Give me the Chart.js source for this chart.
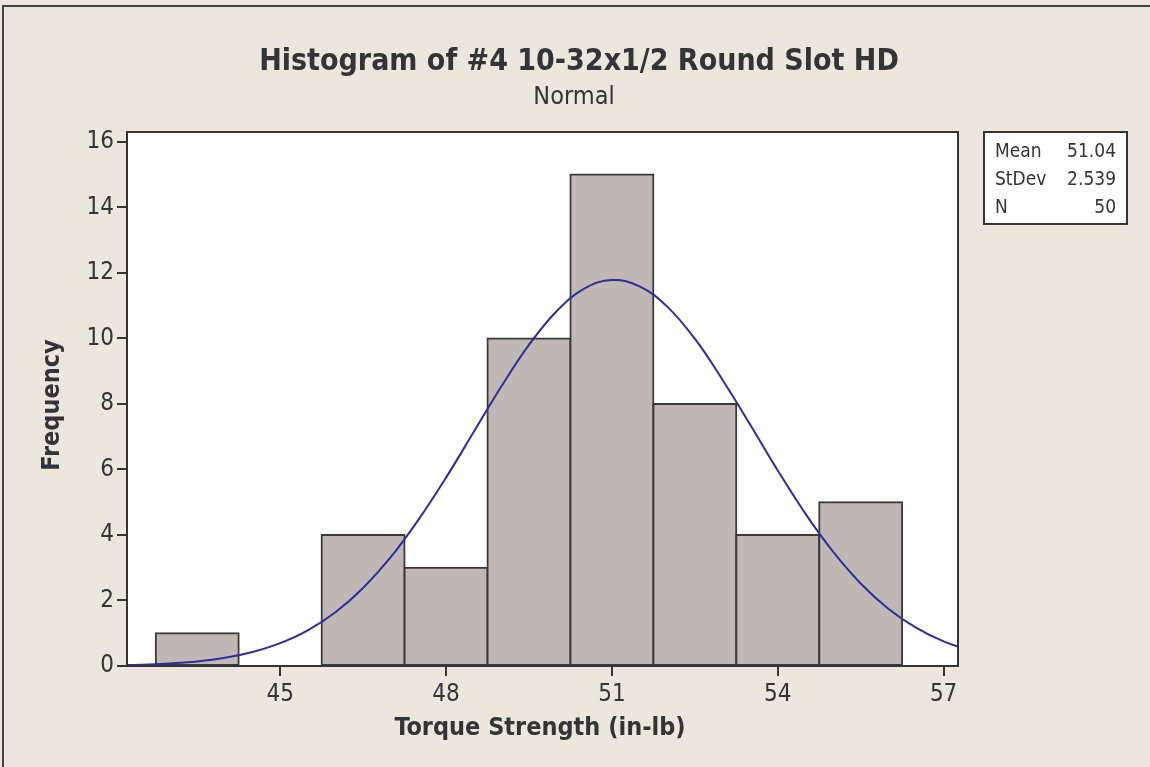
<!DOCTYPE html>
<html>
<head>
<meta charset="utf-8">
<script src="https://cdn.jsdelivr.net/npm/chart.js@4/dist/chart.umd.min.js"></script>
<style>
  body { margin: 0; background: #ede6dd; }
  #wrap { width: 1150px; height: 767px; position: relative; }
</style>
</head>
<body>
<div id="wrap"><canvas id="histChart"></canvas></div>
<script>
// bins (width 1.5) and counts
const binCenters = [43.5, 45, 46.5, 48, 49.5, 51, 52.5, 54, 55.5];
const counts = [1, 0, 4, 3, 10, 15, 8, 4, 5];

// fitted normal curve
const curveX = [42, 42.5, 43, 43.5, 44, 44.5, 45, 45.5, 46, 46.5, 47, 47.5, 48, 48.5, 49, 49.5,
                50, 50.5, 51, 51.5, 52, 52.5, 53, 53.5, 54, 54.5, 55, 55.5, 56, 56.5, 57, 57.5];
const curveY = [0.02, 0.04, 0.08, 0.14, 0.25, 0.43, 0.70, 1.09, 1.64, 2.38, 3.32, 4.46, 5.75, 7.14, 8.53, 9.80,
                10.83, 11.52, 11.78, 11.59, 10.97, 9.99, 8.74, 7.37, 5.97, 4.65, 3.49, 2.52, 1.75, 1.17, 0.75, 0.46];

const xTicks = [45, 48, 51, 54, 57];
const yTicks = [0, 2, 4, 6, 8, 10, 12, 14, 16];

const statNames = ['Mean', 'StDev', 'N'];
const statValues = ['51.04', '2.539', '50'];

const titleText = 'Histogram of #4 10-32x1/2 Round Slot HD';
const subtitleText = 'Normal';
const xTitle = 'Torque Strength (in-lb)';
const yTitle = 'Frequency';

const ink = '#333338';
const fontFam = '"DejaVu Sans Condensed", "DejaVu Sans", Verdana, sans-serif';

const decor = {
  id: 'decor',
  beforeDraw(chart) {
    const c = chart.ctx, a = chart.chartArea;
    c.save();
    c.fillStyle = '#ede6dd';
    c.fillRect(0, 0, chart.width, chart.height);
    c.strokeStyle = '#444';
    c.lineWidth = 2;
    c.beginPath();
    c.moveTo(3, chart.height);
    c.lineTo(3, 6);
    c.lineTo(chart.width, 6);
    c.stroke();
    c.fillStyle = '#ffffff';
    c.fillRect(a.left, a.top, a.right - a.left, a.bottom - a.top);
    c.restore();
  },
  afterDraw(chart) {
    const c = chart.ctx, a = chart.chartArea;
    c.save();
    c.strokeStyle = ink;
    c.lineWidth = 2;
    c.strokeRect(a.left, a.top, a.right - a.left, a.bottom - a.top);

    c.fillStyle = ink;
    c.textAlign = 'center';
    c.textBaseline = 'middle';
    c.font = 'bold 30px ' + fontFam;
    c.fillText(titleText, 579, 62);
    c.font = '25px ' + fontFam;
    c.fillText(subtitleText, 574, 97);

    c.font = 'bold 25px ' + fontFam;
    c.fillText(xTitle, 540, 728);
    c.save();
    c.translate(52, 405);
    c.rotate(-Math.PI / 2);
    c.fillText(yTitle, 0, 0);
    c.restore();

    // stats box
    c.fillStyle = '#ffffff';
    c.fillRect(984, 132, 143, 92);
    c.lineWidth = 2;
    c.strokeRect(984, 132, 143, 92);
    c.fillStyle = ink;
    c.font = '19px ' + fontFam;
    statNames.forEach((n, i) => {
      const y = 152 + i * 28;
      c.textAlign = 'left';
      c.fillText(n, 995, y);
      c.textAlign = 'right';
      c.fillText(statValues[i], 1116, y);
    });
    c.restore();
  }
};

new Chart(document.getElementById('histChart'), {
  type: 'bar',
  data: {
    datasets: [{
      type: 'line',
      data: curveX.map((x, i) => ({ x: x, y: curveY[i] })),
      borderColor: '#2d2d9c',
      borderWidth: 2,
      pointRadius: 0,
      tension: 0.4,
      fill: false,
      order: 0
    }, {
      type: 'bar',
      data: binCenters.map((x, i) => ({ x: x, y: counts[i] })),
      backgroundColor: '#c1b8b6',
      borderColor: '#3a3a3c',
      borderWidth: 2,
      borderSkipped: false,
      inflateAmount: 1,
      barPercentage: 1,
      categoryPercentage: 1,
      order: 1
    }]
  },
  options: {
    responsive: true,
    maintainAspectRatio: false,
    animation: false,
    layout: { padding: { left: 0, top: 132, right: 192, bottom: 0 } },
    plugins: { legend: { display: false }, tooltip: { enabled: false } },
    scales: {
      x: {
        type: 'linear',
        offset: false,
        min: 42.23,
        max: 57.26,
        afterBuildTicks: s => { s.ticks = xTicks.map(v => ({ value: v })); },
        afterFit: s => { s.height = 101; },
        grid: { drawOnChartArea: false, drawTicks: true, tickLength: 10, color: ink, lineWidth: 2, offset: false },
        border: { display: false },
        ticks: { color: ink, font: { family: fontFam, size: 24 }, padding: 4, maxRotation: 0 }
      },
      y: {
        min: 0,
        max: 16.3,
        afterBuildTicks: s => { s.ticks = yTicks.map(v => ({ value: v })); },
        afterFit: s => { s.width = 127; },
        grid: { drawOnChartArea: false, drawTicks: true, tickLength: 10, color: ink, lineWidth: 2 },
        border: { display: false },
        ticks: { color: ink, font: { family: fontFam, size: 24 }, padding: 3 }
      }
    }
  },
  plugins: [decor]
});
</script>
</body>
</html>
